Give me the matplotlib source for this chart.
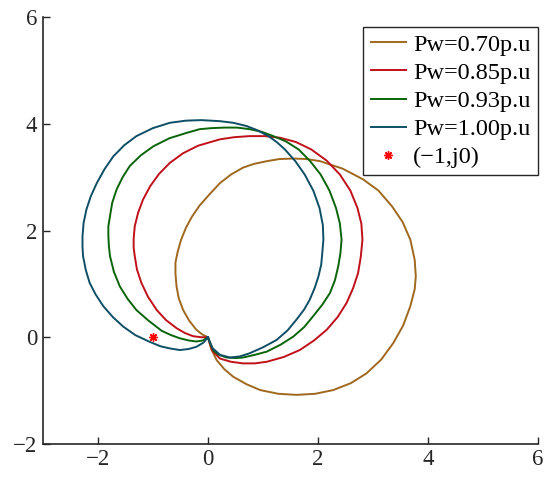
import matplotlib.pyplot as plt
import numpy as np

# Nyquist-type loci
x_070 = [0, 0.06, 0.16, 0.30, 0.46, 0.70, 0.95, 1.28, 1.61, 1.95, 2.28, 2.60, 2.88,
         3.15, 3.37, 3.55, 3.68, 3.76, 3.78, 3.76, 3.68, 3.54, 3.35, 3.10, 2.82,
         2.45, 2.04, 1.80, 1.55, 1.30, 1.07, 0.84, 0.64, 0.42, 0.22, 0.03, -0.15,
         -0.29, -0.40, -0.49, -0.55, -0.59, -0.59, -0.58, -0.57, -0.53, -0.45,
         -0.34, -0.21, -0.10, 0]
y_070 = [0, -0.22, -0.43, -0.60, -0.74, -0.88, -0.99, -1.06, -1.08, -1.06, -0.99,
         -0.86, -0.68, -0.42, -0.11, 0.22, 0.58, 0.90, 1.14, 1.45, 1.83, 2.16,
         2.45, 2.75, 2.96, 3.16, 3.30, 3.34, 3.35, 3.34, 3.30, 3.25, 3.18, 3.05,
         2.89, 2.68, 2.47, 2.26, 2.05, 1.82, 1.60, 1.40, 1.20, 1.07, 0.95, 0.73,
         0.51, 0.31, 0.14, 0.05, 0]

x_085 = [0, 0.08, 0.22, 0.42, 0.64, 0.85, 1.07, 1.38, 1.67, 1.93, 2.16, 2.36, 2.52,
         2.64, 2.73, 2.78, 2.81, 2.79, 2.72, 2.59, 2.40, 2.16, 1.88, 1.60, 1.31,
         1.04, 0.76, 0.48, 0.22, -0.18, -0.45, -0.69, -0.89, -1.05, -1.18, -1.27,
         -1.33, -1.35, -1.35, -1.33, -1.29, -1.21, -1.09, -0.93, -0.76, -0.57,
         -0.42, -0.27, -0.12, 0]
y_085 = [0, -0.25, -0.40, -0.46, -0.49, -0.49, -0.46, -0.37, -0.24, -0.06, 0.14,
         0.38, 0.64, 0.92, 1.20, 1.51, 1.83, 2.13, 2.42, 2.75, 3.05, 3.31, 3.52,
         3.66, 3.74, 3.77, 3.77, 3.75, 3.71, 3.59, 3.45, 3.27, 3.06, 2.83, 2.58,
         2.33, 2.08, 1.85, 1.68, 1.52, 1.27, 1.02, 0.76, 0.51, 0.32, 0.17, 0.08,
         0.02, 0.00, 0]

x_093 = [0, 0.10, 0.20, 0.34, 0.50, 0.64, 0.85, 1.07, 1.32, 1.55, 1.75, 1.91, 2.08,
         2.22, 2.31, 2.37, 2.41, 2.43, 2.40, 2.33, 2.21, 2.05, 1.86, 1.65, 1.42,
         1.19, 0.98, 0.76, 0.53, 0.30, 0.07, -0.15, -0.39, -0.70, -0.99, -1.22,
         -1.42, -1.55, -1.66, -1.74, -1.78, -1.81, -1.81, -1.80, -1.78, -1.71,
         -1.60, -1.46, -1.30, -1.09, -0.84, -0.67, -0.51, -0.35, -0.21, -0.09, 0]
y_093 = [0, -0.25, -0.33, -0.38, -0.39, -0.38, -0.33, -0.27, -0.14, 0.01, 0.19,
         0.39, 0.61, 0.83, 1.07, 1.33, 1.58, 1.83, 2.13, 2.42, 2.75, 3.05, 3.30,
         3.52, 3.67, 3.77, 3.85, 3.90, 3.93, 3.93, 3.92, 3.90, 3.83, 3.73, 3.58,
         3.41, 3.21, 3.00, 2.77, 2.52, 2.27, 2.08, 1.90, 1.71, 1.52, 1.23, 0.95,
         0.72, 0.51, 0.32, 0.12, 0.04, -0.02, -0.06, -0.08, -0.06, 0]

x_100 = [0, 0.08, 0.22, 0.40, 0.58, 0.76, 1.00, 1.25, 1.45, 1.61, 1.75, 1.85, 1.94,
         2.01, 2.06, 2.08, 2.10, 2.09, 2.03, 1.92, 1.76, 1.59, 1.40, 1.25, 1.10,
         0.90, 0.70, 0.46, 0.22, -0.12, -0.40, -0.69, -1.00, -1.30, -1.52, -1.72,
         -1.88, -2.02, -2.13, -2.21, -2.26, -2.28, -2.28, -2.27, -2.22, -2.15,
         -2.04, -1.90, -1.73, -1.54, -1.32, -1.05, -0.86, -0.69, -0.51, -0.35,
         -0.21, -0.08, 0]
y_100 = [0, -0.20, -0.33, -0.38, -0.36, -0.30, -0.19, -0.05, 0.13, 0.33, 0.52,
         0.70, 0.92, 1.14, 1.36, 1.58, 1.83, 2.10, 2.42, 2.74, 3.05, 3.30, 3.52,
         3.66, 3.77, 3.88, 3.96, 4.02, 4.05, 4.07, 4.06, 4.02, 3.92, 3.77, 3.60,
         3.39, 3.15, 2.89, 2.64, 2.39, 2.14, 1.89, 1.70, 1.52, 1.26, 1.02, 0.80,
         0.58, 0.38, 0.20, 0.04, -0.09, -0.17, -0.21, -0.24, -0.22, -0.18, -0.10, 0]

labels = ['Pw=0.70p.u', 'Pw=0.85p.u', 'Pw=0.93p.u', 'Pw=1.00p.u']
colors = ['#A0681E', '#C0101A', '#0A640A', '#0E4F66']

plt.rcParams['font.family'] = ['Liberation Serif', 'DejaVu Serif']

fig = plt.figure(figsize=(5.5, 4.9), dpi=100)
ax = fig.add_axes([0.078, 0.094, 0.900, 0.871])

curves = [(x_070, y_070), (x_085, y_085), (x_093, y_093), (x_100, y_100)]
for (xs, ys), lab, c in zip(curves, labels, colors):
    ax.plot(xs, ys, '-', color=c, linewidth=1.4, label=lab,
            solid_joinstyle='round')
ax.plot([-1], [0], marker=(8, 2, 0), color='#FF0000', markersize=6, mew=1,
        linestyle='none', label='(\u22121,j0)')

ax.set_xlim(-3, 6)
ax.set_ylim(-2, 6)
ax.set_xticks([-2, 0, 2, 4, 6])
ax.set_yticks([-2, 0, 2, 4, 6])
ax.set_xticklabels(['\u22122', '0', '2', '4', '6'])
ax.set_yticklabels(['\u22122', '0', '2', '4', '6'])
ax.tick_params(direction='in', length=5, width=1, labelsize=16.5, colors='#262626',
               labelcolor='#262626', pad=4)
for s in ['top', 'right']:
    ax.spines[s].set_visible(False)
for s in ['left', 'bottom']:
    ax.spines[s].set_linewidth(1.2)
    ax.spines[s].set_color('#262626')

leg = ax.legend(loc='upper right', bbox_to_anchor=(1.0, 0.978), fontsize=17.5,
                handlelength=1.45, handletextpad=0.3, labelspacing=0.25,
                borderpad=0.3, borderaxespad=0.0, fancybox=False,
                edgecolor='#262626', framealpha=1)
leg.get_frame().set_linewidth(1.0)

fig.savefig('out.png', dpi=100)
